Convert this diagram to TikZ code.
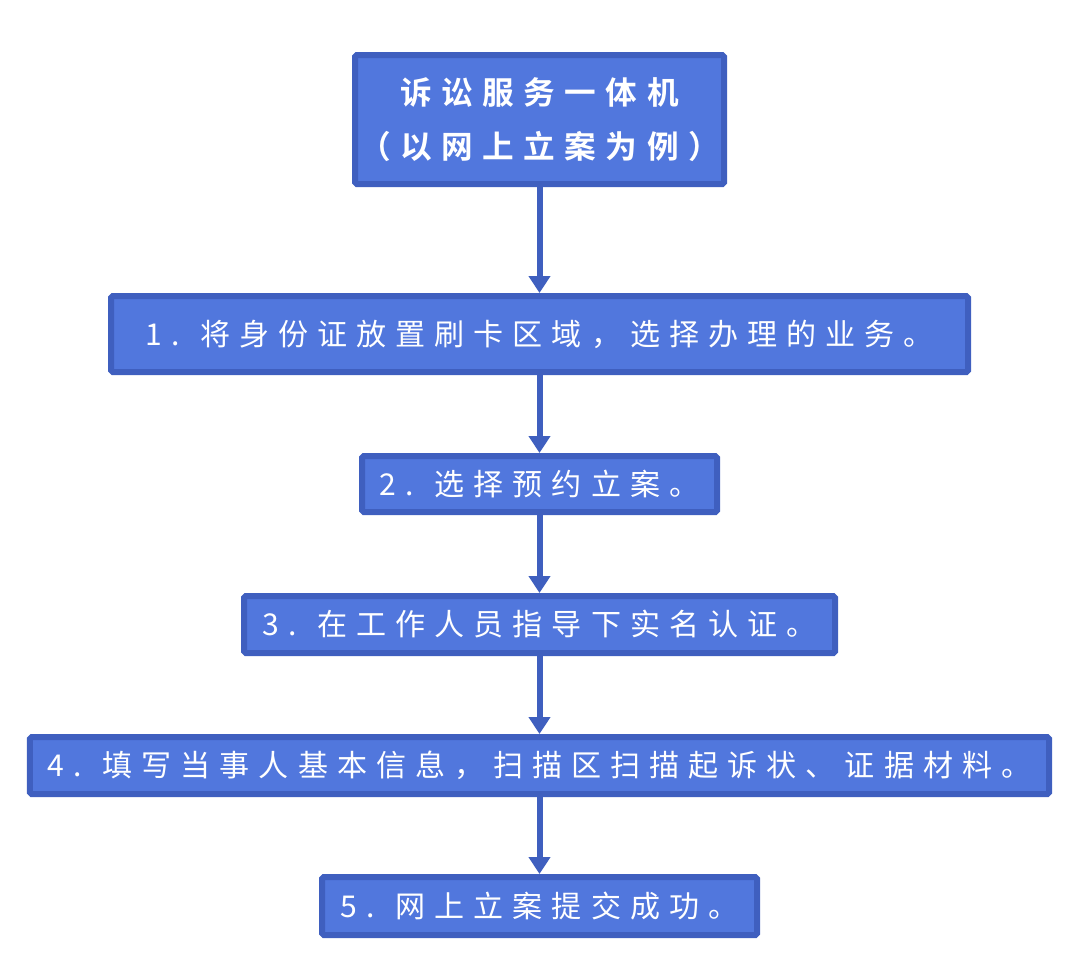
\documentclass[tikz,border=0pt]{standalone}
\usepackage{fontspec}
\newfontfamily\cjk[LetterSpace=30]{Noto Sans CJK SC}
\newfontfamily\cjkbold[LetterSpace=30]{Noto Sans CJK SC Bold}
\usetikzlibrary{arrows.meta}

\definecolor{boxfill}{HTML}{5177DD}
\definecolor{boxedge}{HTML}{3F5FBF}

\begin{document}
\begin{tikzpicture}[
  stepbox/.style={draw=boxedge, fill=boxfill, line width=0.12cm, rounded corners=1pt,
    text=white, font=\cjk\fontsize{17.1}{20}\selectfont, inner sep=0pt, align=center},
  flow/.style={draw=boxedge, line width=0.12cm, -{Triangle[width=0.42cm, length=0.34cm]}}
]

% Canvas
\useasboundingbox (0,0) rectangle (21.6,-19.22);

% === BOXES ===
\node[stepbox, minimum width=7.38cm, minimum height=2.58cm,
  font=\cjkbold\fontsize{18}{31}\selectfont] (top) at (10.79,-2.39)
  {诉讼服务一体机\\（以网上立案为例）};
\node[stepbox, minimum width=17.14cm, minimum height=1.52cm] (s1) at (10.79,-6.68)
  {1. 将身份证放置刷卡区域，选择办理的业务。};
\node[stepbox, minimum width=7.10cm, minimum height=1.12cm] (s2) at (10.79,-9.68)
  {2. 选择预约立案。};
\node[stepbox, minimum width=11.82cm, minimum height=1.14cm] (s3) at (10.79,-12.49)
  {3. 在工作人员指导下实名认证。};
\node[stepbox, minimum width=20.38cm, minimum height=1.14cm] (s4) at (10.79,-15.31)
  {4. 填写当事人基本信息，扫描区扫描起诉状、证据材料。};
\node[stepbox, minimum width=8.70cm, minimum height=1.16cm] (s5) at (10.79,-18.12)
  {5. 网上立案提交成功。};

% === ARROWS ===
\draw[flow] (top.south) -- (s1.north);
\draw[flow] (s1.south) -- (s2.north);
\draw[flow] (s2.south) -- (s3.north);
\draw[flow] (s3.south) -- (s4.north);
\draw[flow] (s4.south) -- (s5.north);

\end{tikzpicture}
\end{document}
